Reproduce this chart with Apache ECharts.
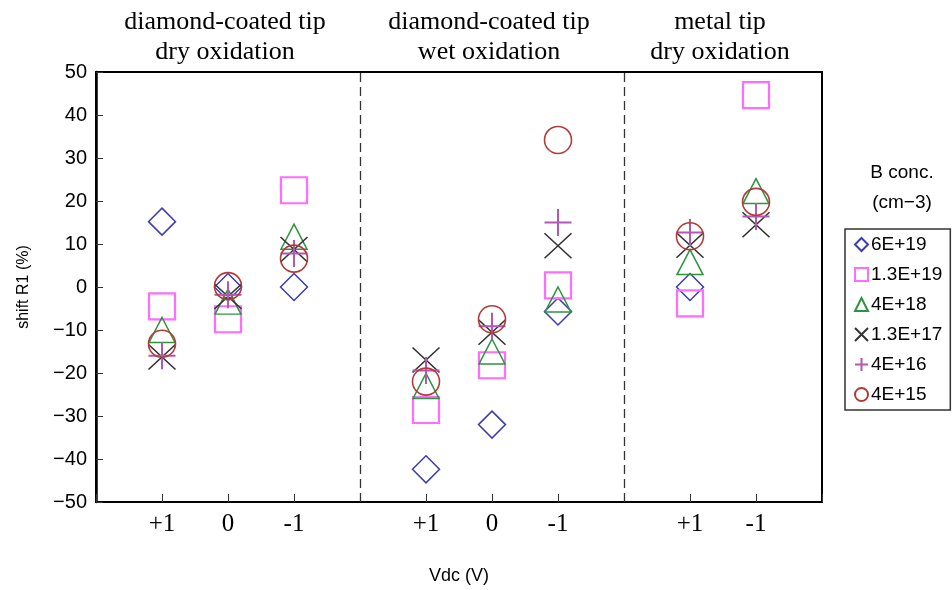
<!DOCTYPE html>
<html>
<head>
<meta charset="utf-8">
<script src="https://cdn.jsdelivr.net/npm/echarts@6/dist/echarts.min.js"></script>
<style>
  html, body { margin: 0; padding: 0; background: #fff; }
  #chart { width: 952px; height: 590px; }
</style>
</head>
<body>
<div id="chart"></div>
<script>
// Bias-voltage slots on the x axis; slots 4 and 8 separate the three experiment groups
const xPositions = [1, 2, 3, 5, 6, 7, 9, 10];
const xTickLabels = ['+1', '0', '-1', '+1', '0', '-1', '+1', '-1'];
const groupDividers = [4, 8];
const groupCenters = [2, 6, 9.5];
const groupTitles = [
  ['diamond-coated tip', 'dry oxidation'],
  ['diamond-coated tip', 'wet oxidation'],
  ['metal tip', 'dry oxidation']
];

// Boron concentration series (cm-3) and the R1 shift (%) at each bias slot
const seriesNames = ['6E+19', '1.3E+19', '4E+18', '1.3E+17', '4E+16', '4E+15'];
const shift6E19  = [15.2, 0, 0, -42.4, -32, -5.7, 0, null];
const shift13E19 = [-4.5, -7.5, 22.5, -28.6, -18.2, 0.4, -3.8, 44.6];
const shift4E18  = [-10, -3.4, 11.7, -23, -15, -2.9, 5.8, 22.3];
const shift13E17 = [-16.3, -2.2, 8.7, -17, -10.5, 9.6, 9.7, 14.5];
const shift4E16  = [-16, -1.8, 7.8, -19.4, -9.1, 15, 12.7, 16.4];
const shift4E15  = [-13.2, 0.2, 6.6, -22, -7.5, 34.2, 11.8, 19.8];

const seriesValues = [shift6E19, shift13E19, shift4E18, shift13E17, shift4E16, shift4E15];

const markerStyles = [
  { symbol: 'diamond', size: [27, 27], color: '#3c3cb4', width: 1.5 },
  { symbol: 'rect', size: [26, 26], color: '#ff6cff', width: 2.2 },
  { symbol: 'triangle', size: [26, 25], color: '#2f9440', width: 1.5 },
  { symbol: 'path://M0,0L10,10M10,0L0,10', size: [27, 25], color: '#333333', width: 1.5 },
  { symbol: 'path://M5,0L5,10M0,5L10,5', size: [27, 27], color: '#b258b2', width: 2 },
  { symbol: 'circle', size: [27, 27], color: '#b23c38', width: 1.6 }
];

const tickLabelOf = {};
xPositions.forEach((x, i) => { tickLabelOf[x] = xTickLabels[i]; });

const chart = echarts.init(document.getElementById('chart'));

const series = seriesNames.map((name, k) => {
  const m = markerStyles[k];
  const s = {
    name: name,
    type: 'scatter',
    symbol: m.symbol,
    symbolSize: m.size,
    itemStyle: { color: 'rgba(0,0,0,0)', borderColor: m.color, borderWidth: m.width, opacity: 1 },
    emphasis: { disabled: true },
    data: xPositions
      .map((x, i) => [x, seriesValues[k][i]])
      .filter(p => p[1] !== null)
  };
  if (k === 0) {
    s.markLine = {
      silent: true,
      symbol: 'none',
      label: { show: false },
      lineStyle: { type: [9, 5], color: '#333', width: 1.3 },
      data: groupDividers.map(x => ({ xAxis: x }))
    };
  }
  return s;
});

chart.setOption({
  animation: false,
  backgroundColor: '#fff',
  grid: {
    left: 96, right: 130, top: 72, bottom: 88,
    show: true, borderColor: '#000', borderWidth: 2, backgroundColor: 'transparent'
  },
  xAxis: {
    type: 'value',
    min: 0, max: 11, interval: 1,
    name: 'Vdc (V)',
    nameLocation: 'middle',
    nameGap: 65,
    nameTextStyle: { fontFamily: 'Liberation Sans', fontSize: 18, color: '#000' },
    axisLine: { show: true, onZero: false, lineStyle: { color: '#000', width: 2 } },
    axisTick: { show: true, inside: true, length: 8, lineStyle: { color: '#333', width: 1 } },
    splitLine: { show: false },
    axisLabel: {
      margin: 10,
      fontFamily: 'Liberation Serif',
      fontSize: 25,
      color: '#000',
      formatter: v => tickLabelOf[v] || ''
    }
  },
  yAxis: {
    type: 'value',
    min: -50, max: 50, interval: 10,
    name: 'shift R1 (%)',
    nameLocation: 'middle',
    nameGap: 64,
    nameTextStyle: { fontFamily: 'Liberation Sans', fontSize: 16, color: '#000' },
    axisLine: { show: true, onZero: false, lineStyle: { color: '#000', width: 2.5 } },
    axisTick: { show: true, inside: true, length: 7, lineStyle: { color: '#333', width: 1 } },
    splitLine: { show: false },
    axisLabel: {
      margin: 9,
      fontFamily: 'Liberation Sans',
      fontSize: 20,
      color: '#000',
      formatter: v => String(v).replace('-', '\u2212')
    }
  },
  legend: {
    orient: 'vertical',
    left: 845,
    top: 229,
    padding: [6, 8, 6, 9],
    itemWidth: 13,
    itemHeight: 13,
    itemGap: 11,
    borderColor: '#333',
    borderWidth: 1.5,
    selectedMode: false,
    textStyle: { fontFamily: 'Liberation Sans', fontSize: 19, color: '#000', padding: [0, 0, 0, -2] },
    data: seriesNames
  },
  series: series
});

// Group headings above the plot and the legend heading, placed from axis coordinates
const headingTexts = [];
groupTitles.forEach((lines, g) => {
  const cx = chart.convertToPixel({ xAxisIndex: 0 }, groupCenters[g]) - 3;
  lines.forEach((line, j) => {
    headingTexts.push({
      type: 'text',
      x: cx,
      y: 22 + j * 30,
      style: {
        text: line,
        fontFamily: 'Liberation Serif',
        fontSize: 26,
        fill: '#000',
        align: 'center',
        verticalAlign: 'middle'
      }
    });
  });
});
['B conc.', '(cm\u22123)'].forEach((line, j) => {
  headingTexts.push({
    type: 'text',
    x: 902,
    y: 173 + j * 30,
    style: {
      text: line,
      fontFamily: 'Liberation Sans',
      fontSize: 19,
      fill: '#000',
      align: 'center',
      verticalAlign: 'middle'
    }
  });
});
chart.setOption({ graphic: headingTexts });
</script>
</body>
</html>
